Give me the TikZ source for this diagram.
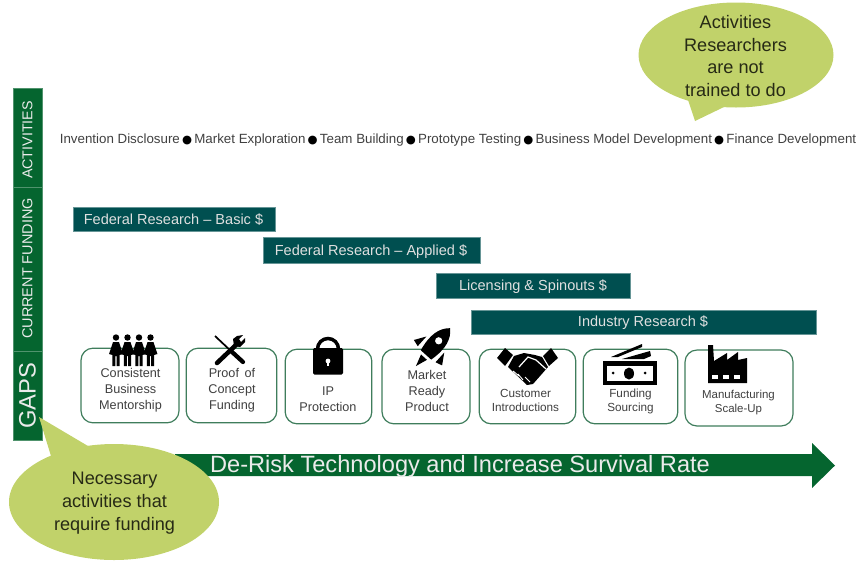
\documentclass[tikz,border=0pt]{standalone}
\usepackage{fontspec}
\setmainfont{Liberation Sans}
\newfontfamily\dotfont{DejaVu Sans}
\usepackage{xcolor}
\definecolor{sidegreen}{HTML}{05652F}
\definecolor{barteal}{HTML}{004F50}
\definecolor{bubblegreen}{HTML}{C1D26A}
\definecolor{boxgreen}{HTML}{3F7D5C}
\definecolor{labelgrey}{HTML}{404040}
\newcommand{\stepdot}{\,{\dotfont\color{black}\fontsize{8.6}{10}\selectfont ●}\,}
\tikzset{
  sidebox/.style={draw=sidegreen!70!white, fill=sidegreen, text=white!92!black, inner sep=0pt},
  fundbar/.style={draw=barteal!60!white, fill=barteal, text=white!88!black, font=\fontsize{10.9}{12}\selectfont, inner sep=0pt},
  gapbox/.style={draw=boxgreen, line width=0.9pt, rounded corners=9pt, fill=white, inner sep=0pt},
  gaptext/.style={text=labelgrey, font=\fontsize{9.5}{12}\selectfont, align=center, inner sep=0pt},
  smalltext/.style={gaptext, font=\fontsize{8.8}{10.5}\selectfont},
  bubbletext/.style={text=black!80!bubblegreen, font=\fontsize{13.6}{17}\selectfont, align=center, inner sep=0pt},
}
\begin{document}
\begin{tikzpicture}[x=0.75pt, y=-0.75pt]
\useasboundingbox (0,0) rectangle (862,561);

% Side
\node[sidebox, minimum width=21.5pt, minimum height=74pt] (activities) at (27.5,137.5) {};
\node[sidebox, minimum width=21.5pt, minimum height=123pt] (funding) at (27.5,269) {};
\node[sidebox, minimum width=21.5pt, minimum height=67pt] (gaps) at (27.5,395.5) {};
\node[text=white!92!black, inner sep=0pt, rotate=90, font=\fontsize{10.7}{12}\selectfont] (activitiestext) at (27.5,140) {ACTIVITIES};
\node[text=white!92!black, inner sep=0pt, rotate=90, font=\fontsize{10.85}{12}\selectfont] (fundingtext) at (27.5,268.5) {CURRENT FUNDING};
\node[text=white!92!black, inner sep=0pt, rotate=90, font=\fontsize{17.8}{20}\selectfont] (gapstext) at (27.5,395.5) {GAPS};

% Activities
\node[text=labelgrey, font=\fontsize{10}{12}\selectfont, inner sep=0pt] (steps) at (458,140.5) {Invention Disclosure\stepdot Market Exploration\stepdot Team Building\stepdot Prototype Testing\stepdot Business Model Development\stepdot Finance Development};

% Funding
\node[fundbar, minimum width=151.5pt, minimum height=18pt] (basic) at (174,219) {};
\node[fundbar, minimum width=163pt, minimum height=19.5pt] (applied) at (371.5,250) {};
\node[fundbar, minimum width=145.5pt, minimum height=19pt] (licensing) at (533,285.5) {};
\node[fundbar, minimum width=259pt, minimum height=18pt] (industry) at (643.5,322) {};
\node[fundbar, draw=none, fill=none] (basictext) at (173.5,219.5) {Federal Research -- Basic \$};
\node[fundbar, draw=none, fill=none] (appliedtext) at (371,251.5) {Federal Research -- Applied \$};
\node[fundbar, draw=none, fill=none] (licensingtext) at (533,286.5) {Licensing \& Spinouts \$};
\node[fundbar, draw=none, fill=none] (industrytext) at (643,322.5) {Industry Research \$};

% Arrow
\fill[sidegreen] (175,454) -- (812,454) -- (812,443) -- (835,465.5) -- (812,488) -- (812,476) -- (175,476) -- cycle;
\node[text=white!92!black, font=\fontsize{17.7}{20}\selectfont, inner sep=0pt] (derisk) at (460,466) {De-Risk Technology and Increase Survival Rate};

% Gaps
\node[gapbox, minimum width=73.5pt, minimum height=56pt] (mentor) at (130,385.5) {};
\node[gapbox, minimum width=68pt, minimum height=56pt] (proof) at (231.5,385.5) {};
\node[gapbox, minimum width=65pt, minimum height=56pt] (protect) at (328.5,386.5) {};
\node[gapbox, minimum width=66pt, minimum height=56pt] (market) at (426,386.5) {};
\node[gapbox, minimum width=72.5pt, minimum height=56pt] (customer) at (527.5,386.5) {};
\node[gapbox, minimum width=71pt, minimum height=56pt] (sourcing) at (630.5,386.5) {};
\node[gapbox, minimum width=81pt, minimum height=57pt] (scale) at (739,388) {};

% People
\foreach \x in {116,127.5,139,150.5} {
  \fill (\x,337.5) circle (3.2);
  \fill (\x-3,342) -- (\x+3,342) -- (\x+7,354) -- (\x+3.6,355) -- (\x+3.6,366) -- (\x+0.6,366) -- (\x+0.6,356) -- (\x-0.6,356) -- (\x-0.6,366) -- (\x-3.6,366) -- (\x-3.6,355) -- (\x-7,354) -- cycle;
}
% Tools
\draw[line width=1.3pt] (215,336) -- (232,352);
\draw[line width=3.2pt, line cap=round] (231,351) -- (243,362);
\draw[line width=3.4pt, line cap=round] (217,363) -- (237,344);
\fill (234,346) -- (233,339) -- (237,336) -- (243,335) -- (239,339) -- (241,342) -- (245,338) -- (245,342) -- (240,347) -- cycle;
% Lock
\draw[line width=2.6pt] (317.5,350) -- (317.5,349) arc[start angle=180, end angle=360, radius=10.5] -- (338.5,350);
\fill[rounded corners=1pt] (313,348) rectangle (343,374.5);
\fill[white] (328,361) circle (2.4);
\fill[white] (327,361) rectangle (329,366);
% Rocket
\begin{scope}[shift={(434,346)}, rotate=-42]
  \fill (0,-24) .. controls (8,-17) and (11,-6) .. (7,12) -- (-7,12) .. controls (-11,-6) and (-8,-17) .. (0,-24) -- cycle;
  \fill[white] (0,-7) circle (3.6);
  \fill (-12,-2) -- (-19,9) -- (-12,11) -- cycle;
  \fill (12,-2) -- (19,9) -- (12,11) -- cycle;
  \fill (-4,15) -- (4,15) -- (0,27) -- cycle;
\end{scope}
% Handshake
\fill (505,348) -- (513,355) -- (505,366) -- (497,358) -- cycle;
\fill (551,348) -- (558,358) -- (549,366) -- (543,356) -- cycle;
\fill (514,356) -- (524,353) -- (535,355) -- (542,357) -- (548,367) -- (533,384) -- (527,385) -- (508,367) -- cycle;
\draw[white, line width=0.9pt] (519,367) -- (528,357) -- (536,360) -- (546,369);
\draw[white, line width=0.7pt] (513,371) -- (519,376) (518,374) -- (523,380) (525,377) -- (530,382);
% Money
\fill (603,361) rectangle (657,385);
\fill[white] (607,366) rectangle (653,381);
\fill (629,373.5) ellipse (5 and 6);
\fill (613,373) circle (1.5);
\fill (645,373) circle (1.5);
\fill (611,357) -- (642,344) -- (642,347) -- (618,357) -- cycle;
\fill (622,359) -- (650,351) -- (651,356) -- (644,359) -- cycle;
% Factory
\fill (708,345) -- (713,345) -- (714,361) -- (727,353) -- (727,360) -- (738,352) -- (738,360) -- (747,358) -- (747,383) -- (708,383) -- cycle;
\foreach \x in {712,723,734} {
  \fill[white] (\x,375) rectangle (\x+6,379);
}

% Gap labels
\node[gaptext] (mentortext) at (130.5,390) {Consistent\\Business\\Mentorship};
\node[gaptext] (prooftext) at (232,390) {Proof\, of\\Concept\\Funding};
\node[gaptext] (protecttext) at (328,399) {IP\\Protection};
\node[gaptext] (markettext) at (427,391) {Market\\Ready\\Product};
\node[smalltext] (customertext) at (525.5,400) {Customer\\Introductions};
\node[smalltext] (sourcingtext) at (630.5,401.5) {Funding\\Sourcing};
\node[smalltext, font=\fontsize{8.6}{10.5}\selectfont] (scaletext) at (738.5,402.5) {Manufacturing\\Scale-Up};

% Bubbles
\fill[bubblegreen] (736,55) ellipse (97.5 and 52.5);
\fill[bubblegreen] (688,100) -- (695,121) -- (724,107) -- cycle;
\fill[bubblegreen] (114,502) ellipse (105 and 58);
\fill[bubblegreen] (51,456) -- (39,417) -- (88,446) -- cycle;
\node[bubbletext] (researchers) at (735.5,56) {Activities\\Researchers\\are not\\trained to do};
\node[bubbletext] (necessary) at (114.5,503) {Necessary\\activities that\\require funding};
\end{tikzpicture}
\end{document}
